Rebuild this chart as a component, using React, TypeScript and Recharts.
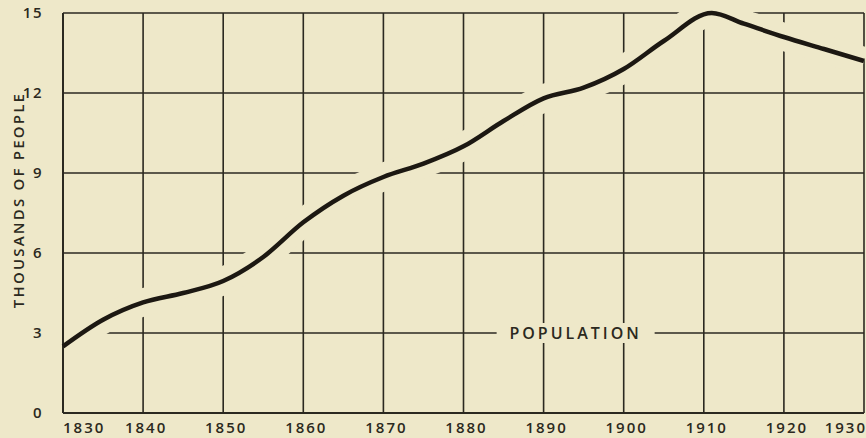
import React from 'react';
import { LineChart, Line, XAxis, YAxis, CartesianGrid, ReferenceLine, ReferenceDot } from 'recharts';

const years = [1830, 1835, 1840, 1845, 1850, 1855, 1860, 1865, 1870, 1875, 1880, 1885, 1890, 1895, 1900, 1905, 1911, 1915, 1920, 1925, 1930];
const population = [2.5, 3.5, 4.15, 4.5, 4.95, 5.85, 7.15, 8.15, 8.85, 9.35, 10.0, 10.95, 11.8, 12.2, 12.9, 13.95, 15.0, 14.6, 14.1, 13.65, 13.2];
const xTicks = [1830, 1840, 1850, 1860, 1870, 1880, 1890, 1900, 1910, 1920, 1930];
const yTicks = [0, 3, 6, 9, 12, 15];

const data = years.map((year, i) => ({ year, value: population[i] }));

const BG = '#eee8c9';
const INK = '#2b2920';
const FONT = "'Open Sans', 'DejaVu Sans', sans-serif";

const XTick = (props: any) => {
  const { x, y, payload } = props;
  const v = payload.value;
  const anchor = v === 1830 ? 'start' : v === 1930 ? 'end' : 'middle';
  const dx = v === 1830 ? 0 : v === 1930 ? 3 : 3;
  return (
    <text x={x + dx} y={y + 12} textAnchor={anchor} fill={INK} fontSize={15} fontWeight={600} letterSpacing={2} fontFamily={FONT}>
      {v}
    </text>
  );
};

const YTick = (props: any) => {
  const { x, y, payload } = props;
  return (
    <text x={x - 12} y={y + 5} textAnchor="end" fill={INK} fontSize={15} fontWeight={600} letterSpacing={1.5} fontFamily={FONT}>
      {payload.value}
    </text>
  );
};

const PopLabel = (props: any) => {
  const { viewBox } = props;
  const cx = viewBox.x;
  const cy = viewBox.y;
  return (
    <g>
      <rect x={cx - 79} y={cy - 10} width={158} height={20} fill={BG} />
      <text x={cx} y={cy + 6} textAnchor="middle" fill={INK} fontSize={16} fontWeight={600} letterSpacing={3} fontFamily={FONT}>
        POPULATION
      </text>
    </g>
  );
};

export default function App() {
  return (
    <div style={{ width: 866, height: 438, background: BG, position: 'relative' }}>
      <style>{`body{margin:0;background:${BG}}`}</style>
      <LineChart width={866} height={438} data={data} margin={{ top: 13, right: 2, bottom: 0, left: 0 }}>
        <CartesianGrid stroke={INK} strokeWidth={1.6} />
        <XAxis
          dataKey="year"
          type="number"
          domain={[1830, 1930]}
          ticks={xTicks}
          axisLine={false}
          tickLine={false}
          height={25}
          tick={<XTick />}
          interval={0}
        />
        <YAxis
          type="number"
          domain={[0, 15]}
          ticks={yTicks}
          axisLine={false}
          tickLine={false}
          width={63}
          tick={<YTick />}
          interval={0}
        />
        <Line
          type="monotone"
          dataKey="value"
          stroke={BG}
          strokeWidth={28}
          dot={false}
          activeDot={false}
          isAnimationActive={false}
        />
        <ReferenceLine x={1830} stroke={INK} strokeWidth={2} />
        <ReferenceLine y={0} stroke={INK} strokeWidth={2} />
        <ReferenceDot x={1894} y={3} r={0} fill="none" stroke="none" label={<PopLabel />} />
        <Line
          type="monotone"
          dataKey="value"
          stroke="#1c1812"
          strokeWidth={4.5}
          dot={false}
          activeDot={false}
          isAnimationActive={false}
        />
      </LineChart>
      <div
        style={{
          position: 'absolute',
          left: 18,
          top: 200,
          transform: 'translate(-50%, -50%) rotate(-90deg)',
          whiteSpace: 'nowrap',
          fontFamily: FONT,
          fontSize: 15,
          fontWeight: 600,
          letterSpacing: 2.2,
          color: INK,
        }}
      >
        THOUSANDS OF PEOPLE
      </div>
    </div>
  );
}
